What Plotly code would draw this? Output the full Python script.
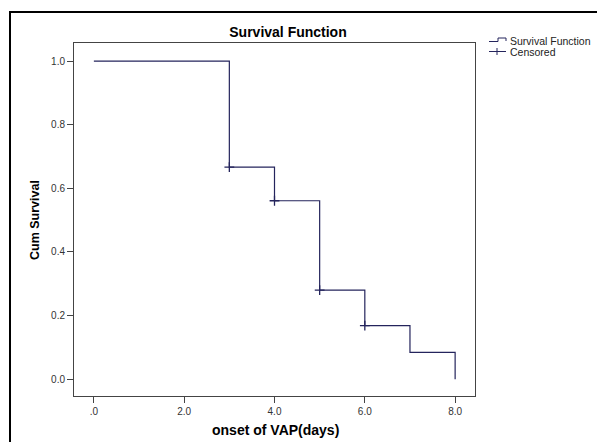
import plotly.graph_objects as go

# ---- data ----
times = [0, 3, 4, 5, 6, 7, 8]
survival = [1.0, 0.667, 0.561, 0.280, 0.168, 0.084, 0.0]
censored_times = [3, 4, 5, 6]
censored_surv = [0.667, 0.561, 0.280, 0.168]
x_tickvals = [0, 2, 4, 6, 8]
x_ticktext = [".0", "2.0", "4.0", "6.0", "8.0"]
y_tickvals = [0.0, 0.2, 0.4, 0.6, 0.8, 1.0]
y_ticktext = ["0.0", "0.2", "0.4", "0.6", "0.8", "1.0"]

W, H = 597, 442
L, R, T, B = 74, 122, 43, 46
PW, PH = W - L - R, H - T - B
FONT = "Arial, Liberation Sans, sans-serif"
NAVY = "#24245c"


def px(x):
    return (x - L) / PW


def py(y):
    return (H - B - y) / PH


fig = go.Figure()
fig.add_trace(go.Scatter(x=times, y=survival, mode="lines", line_shape="hv",
                         line=dict(color=NAVY, width=1.2), name="Survival Function",
                         showlegend=False))
fig.add_trace(go.Scatter(x=censored_times, y=censored_surv, mode="markers",
                         marker=dict(symbol="cross-thin", size=7,
                                     line=dict(color=NAVY, width=1.3)),
                         name="Censored", showlegend=False))

shapes = []
# outer frame
shapes.append(dict(type="rect", xref="paper", yref="paper",
                   x0=px(10), x1=px(640), y0=py(480), y1=py(12),
                   line=dict(color="black", width=2)))
# legend glyphs
seg = lambda x0, y0, x1, y1: dict(type="line", xref="paper", yref="paper",
                                  x0=px(x0), y0=py(y0), x1=px(x1), y1=py(y1),
                                  line=dict(color=NAVY, width=1))
shapes += [seg(489, 41.5, 498, 41.5), seg(498, 41.5, 498, 38), seg(498, 38, 506, 38),
           seg(506, 38, 506, 41)]
shapes += [seg(489, 51.5, 506, 51.5), seg(497, 48, 497, 55)]

annotations = [
    dict(text="Survival Function", x=px(508), y=py(41), xref="paper", yref="paper",
         xanchor="left", yanchor="middle", showarrow=False,
         font=dict(family=FONT, size=10.5, color="#222")),
    dict(text="Censored", x=px(508), y=py(51.5), xref="paper", yref="paper",
         xanchor="left", yanchor="middle", showarrow=False,
         font=dict(family=FONT, size=10.5, color="#222")),
    dict(text="<b>Cum Survival</b>", x=px(35), y=py(220), xref="paper", yref="paper",
         xanchor="center", yanchor="middle", textangle=-90, showarrow=False,
         font=dict(family=FONT, size=12.5, color="black")),
    dict(text="<b>onset of VAP(days)</b>", x=px(275), y=py(430), xref="paper", yref="paper",
         xanchor="center", yanchor="middle", showarrow=False,
         font=dict(family=FONT, size=14, color="black")),
]

fig.update_layout(
    width=W, height=H,
    margin=dict(l=L, r=R, t=T, b=B),
    paper_bgcolor="white", plot_bgcolor="white",
    title=dict(text="<b>Survival Function</b>", x=px(288), xref="paper", xanchor="center",
               y=1 - 32 / H, yref="container", yanchor="middle",
               font=dict(family=FONT, size=14, color="black")),
    shapes=shapes, annotations=annotations,
    showlegend=False,
)
fig.update_xaxes(range=[-0.44, 8.44], tickvals=x_tickvals, ticktext=x_ticktext,
                 showgrid=False, zeroline=False, showline=True, mirror=True,
                 linecolor="#444", linewidth=1, ticks="outside", ticklen=6,
                 tickcolor="#444", tickfont=dict(family=FONT, size=10, color="#333"))
fig.update_yaxes(range=[-0.053, 1.057], tickvals=y_tickvals, ticktext=y_ticktext,
                 showgrid=False, zeroline=False, showline=True, mirror=True,
                 linecolor="#444", linewidth=1, ticks="outside", ticklen=6,
                 tickcolor="#444", tickfont=dict(family=FONT, size=10, color="#333"))

fig.write_html("out.html", config={"displayModeBar": False},
               post_script="document.body.style.margin='0';document.body.style.overflow='hidden';")
